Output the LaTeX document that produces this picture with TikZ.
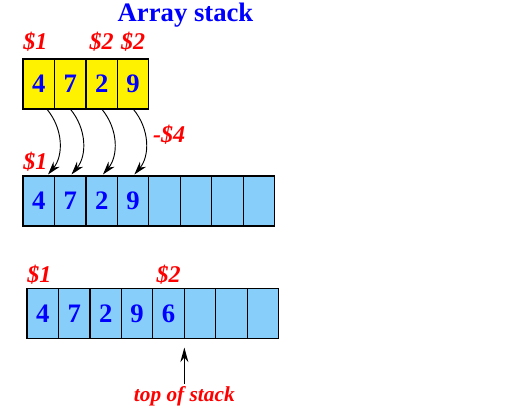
\documentclass[tikz,border=0pt]{standalone}
\usepackage{fontspec}
\setmainfont{Liberation Serif}
\usetikzlibrary{arrows.meta, positioning}
\definecolor{cellblue}{RGB}{135,206,250}

\begin{document}
\begin{tikzpicture}[
    x=0.75pt, y=0.75pt,
    node distance=0pt,
    cell/.style={rectangle, draw=black, line width=0.9pt, outer sep=0pt, inner sep=0pt, minimum width=23.6pt, minimum height=37.5pt, text=blue, font=\fontsize{20}{20}\selectfont\bfseries},
    oldcell/.style={cell, fill=yellow},
    newcell/.style={cell, fill=cellblue},
    reg/.style={text=red, inner sep=0pt, font=\fontsize{18}{18}\selectfont\bfseries\itshape},
    copyarrow/.style={-{Stealth[length=10pt, width=6pt]}, line width=0.7pt, bend left=40, shorten >=1.5pt},
    ptr/.style={-{Stealth[length=11pt, width=6pt]}, line width=0.9pt}
]
    \useasboundingbox (0,0) rectangle (519,414);
    \node[anchor=base, inner sep=0pt, text=blue, font=\fontsize{20}{20}\selectfont\bfseries] (title) at (185.5,392) {Array stack};

    % old array
    \node[oldcell] (t1) at (38.75,330) {4};
    \node[oldcell, right=of t1] (t2) {7};
    \node[oldcell, right=of t2] (t3) {2};
    \node[oldcell, right=of t3] (t4) {9};
    \node[reg, anchor=base west] (t1lbl) at ([yshift=6.75pt]t1.north west) {\$1};
    \node[reg, anchor=base] (t3lbl) at ([yshift=6.75pt]t3.north) {\$2};
    \node[reg, anchor=base] (t4lbl) at ([yshift=6.75pt]t4.north) {\$2};

    % new array after copying
    \node[newcell] (m1) at (38.75,213) {4};
    \node[newcell, right=of m1] (m2) {7};
    \node[newcell, right=of m2] (m3) {2};
    \node[newcell, right=of m3] (m4) {9};
    \node[newcell, right=of m4] (m5) {};
    \node[newcell, right=of m5] (m6) {};
    \node[newcell, right=of m6] (m7) {};
    \node[newcell, right=of m7] (m8) {};
    \node[reg, anchor=base west] (m1lbl) at ([yshift=4.5pt]m1.north west) {\$1};
    \node[reg, anchor=base west] (shift) at ([xshift=3pt, yshift=24.75pt]m5.north west) {-\$4};

    \draw[copyarrow] ([xshift=6pt]t1.south) to ([xshift=6pt]m1.north);
    \draw[copyarrow] (t2.south) to (m2.north);
    \draw[copyarrow] (t3.south) to (m3.north);
    \draw[copyarrow] (t4.south) to (m4.north);

    % after push
    \node[newcell] (b1) at (42.75,100.5) {4};
    \node[newcell, right=of b1] (b2) {7};
    \node[newcell, right=of b2] (b3) {2};
    \node[newcell, right=of b3] (b4) {9};
    \node[newcell, right=of b4] (b5) {6};
    \node[newcell, right=of b5] (b6) {};
    \node[newcell, right=of b6] (b7) {};
    \node[newcell, right=of b7] (b8) {};
    \node[reg, anchor=base west] (b1lbl) at ([yshift=4.5pt]b1.north west) {\$1};
    \node[reg, anchor=base] (b5lbl) at ([yshift=4.5pt]b5.north) {\$2};

    \node[reg, font=\fontsize{16}{16}\selectfont\bfseries\itshape, below=36pt of b6.south west] (tos) {top of stack};
    \draw[ptr, shorten <=2pt, shorten >=6.75pt] (tos) -- (b6.south west);
\end{tikzpicture}
\end{document}
